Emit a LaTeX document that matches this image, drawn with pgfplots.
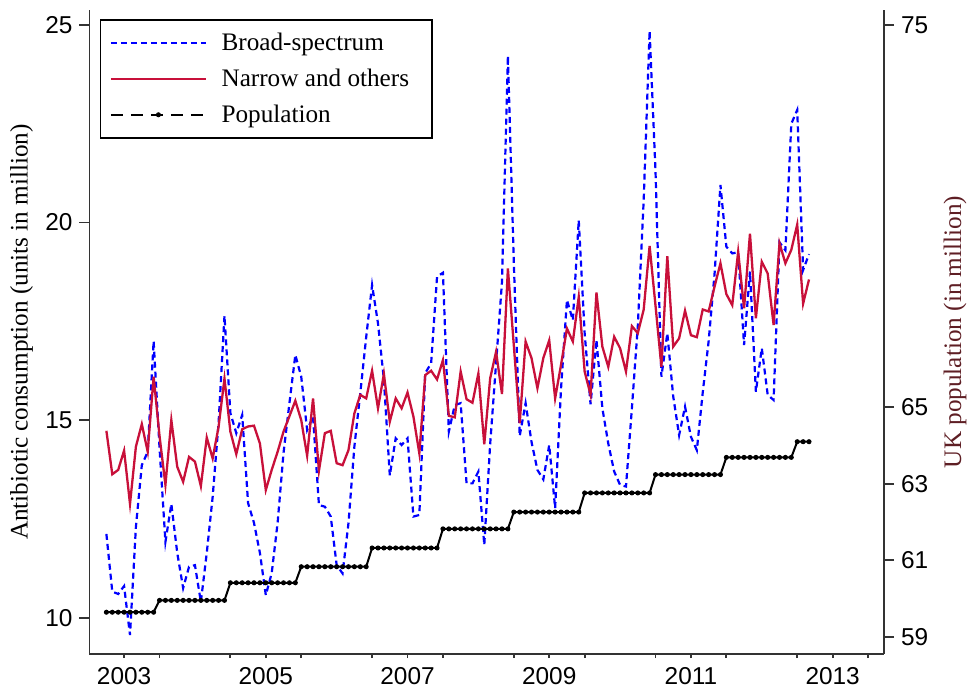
\documentclass[border=0pt]{standalone}
\usepackage{fontspec}
\setmainfont{Liberation Serif}
\newfontfamily\ticksans{Liberation Sans}
\usepackage{pgfplots}
\usepackage{pgfplotstable}
\pgfplotsset{compat=1.18}
\usetikzlibrary{calc}
\definecolor{broad}{RGB}{0,0,255}
\definecolor{narrow}{HTML}{C8103A}
\definecolor{poptitle}{HTML}{5E1E24}
\definecolor{axisgray}{gray}{0.2}

% monthly series, t = month index (0 = first month)
\pgfplotstableread{
t broad narrow pop
0 12.12 14.73 59.64
1 10.66 13.63 59.64
2 10.60 13.74 59.64
3 10.80 14.23 59.64
4 9.56 12.88 59.64
5 12.30 14.33 59.64
6 13.86 14.90 59.64
7 14.20 14.20 59.64
8 17.00 16.10 59.64
9 14.30 14.60 59.95
10 11.92 13.36 59.95
11 12.88 15.00 59.95
12 11.64 13.82 59.95
13 10.75 13.44 59.95
14 11.29 14.07 59.95
15 11.33 13.95 59.95
16 10.40 13.33 59.95
17 11.64 14.56 59.95
18 13.06 14.03 59.95
19 14.93 14.83 59.95
20 17.64 16.05 59.95
21 15.18 14.71 60.41
22 14.67 14.14 60.41
23 15.13 14.77 60.41
24 12.90 14.84 60.41
25 12.40 14.86 60.41
26 11.64 14.41 60.41
27 10.57 13.23 60.41
28 11.13 13.74 60.41
29 12.40 14.20 60.41
30 14.17 14.71 60.41
31 15.43 15.10 60.41
32 16.65 15.49 60.41
33 16.10 15.00 60.83
34 14.75 14.10 60.83
35 15.09 15.55 60.83
36 12.85 13.72 60.83
37 12.81 14.67 60.83
38 12.56 14.73 60.83
39 11.33 13.91 60.83
40 11.12 13.86 60.83
41 12.39 14.24 60.83
42 14.33 15.17 60.83
43 15.68 15.64 60.83
44 17.10 15.55 60.83
45 18.42 16.25 61.32
46 17.45 15.30 61.32
47 16.02 16.17 61.32
48 13.60 14.96 61.32
49 14.54 15.55 61.32
50 14.37 15.30 61.32
51 14.54 15.70 61.32
52 12.56 15.09 61.32
53 12.60 14.16 61.32
54 16.19 16.14 61.32
55 16.44 16.25 61.32
56 18.63 16.03 61.32
57 18.73 16.52 61.82
58 14.71 15.11 61.82
59 15.38 15.07 61.82
60 15.43 16.23 61.82
61 13.40 15.53 61.82
62 13.40 15.44 61.82
63 13.70 16.18 61.82
64 11.84 14.39 61.82
65 14.40 16.06 61.82
66 16.44 16.73 61.82
67 18.50 15.66 61.82
68 24.22 18.84 61.82
69 19.00 16.90 62.26
70 14.60 14.92 62.26
71 15.43 16.99 62.26
72 14.45 16.57 62.26
73 13.74 15.81 62.26
74 13.50 16.57 62.26
75 14.37 17.02 62.26
76 12.77 15.55 62.26
77 15.80 16.40 62.26
78 18.04 17.32 62.26
79 17.53 16.99 62.26
80 20.06 18.12 62.26
81 17.20 16.23 62.76
82 15.40 15.64 62.76
83 17.03 18.23 62.76
84 15.30 16.86 62.76
85 14.41 16.35 62.76
86 13.70 17.11 62.76
87 13.36 16.82 62.76
88 13.32 16.23 62.76
89 15.30 17.38 62.76
90 17.37 17.20 62.76
91 20.57 17.80 62.76
92 24.85 19.41 62.76
93 21.30 17.90 63.24
94 16.10 16.35 63.24
95 17.20 19.15 63.24
96 15.60 16.86 63.24
97 14.62 17.07 63.24
98 15.34 17.77 63.24
99 14.58 17.15 63.24
100 14.24 17.10 63.24
101 15.70 17.80 63.24
102 17.00 17.75 63.24
103 18.70 18.38 63.24
104 20.95 18.97 63.24
105 19.39 18.19 63.69
106 19.22 17.91 63.69
107 19.25 19.26 63.69
108 16.90 17.83 63.69
109 18.76 19.72 63.69
110 15.72 17.58 63.69
111 16.82 19.01 63.69
112 15.64 18.71 63.69
113 15.51 17.41 63.69
114 19.50 19.48 63.69
115 19.30 18.97 63.69
116 22.50 19.31 63.69
117 22.85 19.95 64.10
118 18.80 17.95 64.10
119 19.20 18.56 64.10
}\abx

\begin{document}
\begin{tikzpicture}
\pgfplotsset{
  base/.style={
    scale only axis, width=397.25pt, height=322pt,
    xmin=-2.86, xmax=131.7,
    axis line style={axisgray, line width=0.9pt},
    tick style={axisgray, line width=0.9pt},
    tick align=outside,
    major tick length=5pt,
    tick label style={font=\fontsize{12.2pt}{14pt}\ticksans},
    /pgf/number format/assume math mode=true,
    label style={font=\fontsize{12.6pt}{15pt}\selectfont},
  },
}
\begin{axis}[base,
  ymin=9.081, ymax=25.38,
  axis x line*=bottom, axis y line*=left,
  xtick={9,21,...,129}, xticklabels={},
  xtick style={/pgfplots/major tick length=2pt},
  extra x ticks={3,27,51,75,99,123},
  extra x tick labels={2003,2005,2007,2009,2011,2013},
  extra x tick style={major tick length=0pt, xticklabel style={yshift=-3pt}},
  ytick={10,15,20,25},
  ylabel={Antibiotic consumption (units in million)},
  ylabel style={at={(axis description cs:-0.078,0.5)}, anchor=base},
  legend style={at={(axis description cs:0.0126,0.986)}, anchor=north west,
    draw=black, line width=0.75pt, font=\fontsize{12.6pt}{15pt}\selectfont,
    inner xsep=4.75pt, inner ysep=2.5pt, row sep=0pt, cells={anchor=west},
    nodes={inner xsep=4.25pt, inner ysep=0pt, minimum height=18pt},
    /tikz/every odd column/.append style={column sep=3pt}},
  legend image code/.code={\draw[mark repeat=2,mark phase=2,#1]
    plot coordinates {(0pt,0pt) (23.75pt,0pt) (47.5pt,0pt)};},
]
\addplot[broad, line width=1.1pt, dash pattern=on 3pt off 2pt] table[x=t,y=broad]{\abx};
\addplot[narrow, line width=1.15pt] table[x=t,y=narrow]{\abx};
\addlegendimage{black, line width=1pt, dash pattern=on 6pt off 4pt,
  mark=*, mark size=1pt, mark options={solid, line width=0.5pt}}
\legend{Broad-spectrum, Narrow and others\hspace*{2.5pt}, Population}
\coordinate (O) at (rel axis cs:0,0);
\end{axis}
\begin{axis}[base,
  ymin=58.547, ymax=75.392,
  axis y line*=right, axis x line=none,
  ytick={59,61,63,65,75},
  ylabel={UK population (in million)},
  ylabel style={at={(axis description cs:1.097,0.5)}, anchor=base, color=poptitle},
]
\addplot[black, line width=1pt, mark=*, mark size=1pt,
  mark options={line width=0.5pt}] table[x=t,y=pop]{\abx};
\end{axis}
\pgfresetboundingbox
\path[use as bounding box] ($(O)+(-44.75pt,-19pt)$) rectangle ($(O)+(438.75pt,327pt)$);
\end{tikzpicture}
\end{document}
